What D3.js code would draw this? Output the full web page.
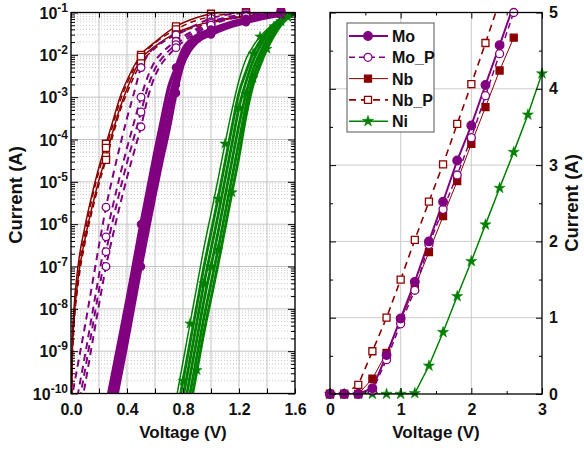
<!DOCTYPE html>
<html>
<head>
<meta charset="utf-8">
<script src="https://cdn.jsdelivr.net/npm/d3@7"></script>
<style>
  body { margin: 0; background: #fff; }
  text { font-family: "Liberation Sans", Arial, sans-serif; font-weight: bold; fill: #111; }
</style>
</head>
<body>
<svg id="chart" width="584" height="450"></svg>
<script>
// ---------------- left panel: log10 of current (A) ----------------
const moV = [0.27, 0.35, 0.40, 0.45, 0.50, 0.55, 0.60, 0.65, 0.70, 0.75, 0.80, 0.85, 0.90, 1.00, 1.10, 1.25, 1.40, 1.50, 1.60];
const moLogI = [
    [-10.0, -8.65, -7.8, -6.9, -6.0, -5.15, -4.3, -3.5, -2.75, -2.3, -1.87, -1.66, -1.54, -1.4, -1.28, -1.15, -1.06, -1.02, -1.0],
    [-10.33, -8.98, -8.13, -7.23, -6.33, -5.48, -4.63, -3.83, -3.08, -2.5, -1.99, -1.74, -1.59, -1.44, -1.31, -1.18, -1.08, -1.03, -1.0],
    [-10.67, -9.32, -8.47, -7.57, -6.67, -5.82, -4.97, -4.17, -3.42, -2.7, -2.11, -1.82, -1.65, -1.48, -1.35, -1.2, -1.1, -1.05, -1.0],
    [-11.0, -9.65, -8.8, -7.9, -7.0, -6.15, -5.3, -4.5, -3.75, -2.9, -2.23, -1.9, -1.7, -1.52, -1.38, -1.23, -1.12, -1.06, -1.01],
];
const moMarkV = [0.50, 0.75, 1.00, 1.25, 1.50];

const moPV = [0.0, 0.05, 0.10, 0.15, 0.20, 0.25, 0.30, 0.35, 0.40, 0.45, 0.50, 0.55, 0.60, 0.65, 0.70, 0.75, 0.80, 0.90, 1.00, 1.10, 1.25, 1.40, 1.50, 1.60];
const moPLogI = [
    [-10.2, -9.3, -8.4, -7.45, -6.5, -5.6, -4.85, -4.15, -3.5, -2.9, -2.3, -2.0, -1.8, -1.7, -1.6, -1.53, -1.45, -1.28, -1.14, -1.06, -1.01, -1.0, -1.0, -1.0],
    [-10.9, -10.0, -9.1, -8.15, -7.2, -6.3, -5.55, -4.85, -4.2, -3.6, -3.0, -2.5, -2.15, -1.95, -1.8, -1.68, -1.57, -1.38, -1.22, -1.12, -1.05, -1.01, -1.0, -1.0],
    [-11.25, -10.35, -9.45, -8.5, -7.55, -6.65, -5.9, -5.2, -4.55, -3.95, -3.35, -2.75, -2.33, -2.08, -1.9, -1.76, -1.63, -1.43, -1.26, -1.15, -1.07, -1.02, -1.0, -1.0],
    [-11.6, -10.7, -9.8, -8.85, -7.9, -7.0, -6.25, -5.55, -4.9, -4.3, -3.7, -3.0, -2.5, -2.2, -2.0, -1.83, -1.69, -1.48, -1.3, -1.18, -1.09, -1.02, -1.0, -1.0],
];
const moPMarkV = [0.25, 0.50, 0.75, 1.00, 1.25, 1.50];

const nbV = [0.0, 0.01, 0.02, 0.05, 0.10, 0.15, 0.20, 0.25, 0.30, 0.35, 0.40, 0.50, 0.60, 0.75, 0.90, 1.00, 1.10, 1.25, 1.50, 1.60];
const nbLogI = [
    [-11.0, -8.7, -8.05, -7.0, -6.05, -5.3, -4.65, -4.1, -3.55, -3.0, -2.6, -2.0, -1.7, -1.33, -1.12, -1.03, -1.0, -1.0, -1.0, -1.0],
    [-11.0, -9.0, -8.35, -7.3, -6.35, -5.6, -4.95, -4.4, -3.8, -3.25, -2.8, -2.1, -1.8, -1.48, -1.3, -1.22, -1.15, -1.08, -1.02, -1.0],
];
const nbPLogI = [
    [-11.0, -8.9, -8.25, -7.2, -6.2, -5.4, -4.75, -4.2, -3.65, -3.1, -2.68, -2.05, -1.72, -1.4, -1.18, -1.1, -1.04, -1.0, -1.0, -1.0],
    [-11.0, -9.2, -8.5, -7.45, -6.45, -5.7, -5.05, -4.48, -3.9, -3.33, -2.9, -2.2, -1.85, -1.52, -1.33, -1.25, -1.17, -1.1, -1.03, -1.0],
];
const nbMarkV = [0.25, 0.50, 0.75, 1.00, 1.25, 1.50];

const niV = [0.75, 0.80, 0.85, 0.90, 0.95, 1.00, 1.05, 1.10, 1.15, 1.20, 1.25, 1.30, 1.35, 1.40, 1.45, 1.50, 1.55, 1.60];
const niLogI = [
    [-10.15, -9.25, -8.35, -7.45, -6.55, -5.75, -4.95, -4.1, -3.3, -2.6, -2.1, -1.8, -1.57, -1.4, -1.25, -1.13, -1.04, -1.0],
    [-10.6, -9.7, -8.8, -7.9, -7.0, -6.2, -5.4, -4.55, -3.7, -2.9, -2.4, -1.97, -1.68, -1.45, -1.3, -1.15, -1.05, -1.0],
    [-11.0, -10.1, -9.2, -8.3, -7.4, -6.6, -5.8, -4.95, -4.1, -3.25, -2.64, -2.15, -1.8, -1.52, -1.33, -1.17, -1.07, -1.0],
    [-11.4, -10.5, -9.6, -8.7, -7.8, -7.0, -6.2, -5.35, -4.5, -3.65, -2.92, -2.35, -1.96, -1.63, -1.4, -1.21, -1.08, -1.0],
    [-11.8, -10.9, -10.0, -9.1, -8.2, -7.4, -6.6, -5.75, -4.9, -4.05, -3.2, -2.55, -2.1, -1.75, -1.48, -1.26, -1.11, -1.01],
    [-12.15, -11.25, -10.35, -9.45, -8.55, -7.75, -6.95, -6.1, -5.25, -4.4, -3.45, -2.72, -2.26, -1.86, -1.55, -1.3, -1.13, -1.02],
];
const niMarkV = [[0.85, 1.10, 1.35], [0.80, 1.05, 1.30], [0.95, 1.20, 1.45], [1.00, 1.25, 1.50], [1.05, 1.30, 1.55], [0.90, 1.15, 1.40]];

// ---------------- right panel: current (A), linear ----------------
const rightV = [0, 0.2, 0.4, 0.6, 0.8, 1.0, 1.2, 1.4, 1.6, 1.8, 2.0, 2.2, 2.4, 2.6, 2.8, 3.0];
const moI = [0, 0, 0, 0.075, 0.51, 0.99, 1.47, 2.0, 2.52, 3.06, 3.52, 4.05, 4.57, 5.1];
const moPI = [0, 0, 0, 0.04, 0.45, 0.92, 1.36, 1.96, 2.42, 2.87, 3.36, 3.91, 4.46, 5.0];
const nbI = [0, 0, 0, 0.2, 0.54, 0.97, 1.4, 1.86, 2.33, 2.79, 3.28, 3.76, 4.24, 4.67];
const nbPI = [0, 0, 0.12, 0.56, 1.0, 1.5, 2.02, 2.52, 3.01, 3.54, 4.06, 4.6, 5.15];
const niI = [0, 0, 0, 0, 0, 0, 0.01, 0.37, 0.81, 1.28, 1.74, 2.22, 2.7, 3.17, 3.66, 4.2];

const legendNames = ['Mo', 'Mo_P', 'Nb', 'Nb_P', 'Ni'];
const decades = [-10, -9, -8, -7, -6, -5, -4, -3, -2, -1];
const leftXTicks = [0, 0.2, 0.4, 0.6, 0.8, 1.0, 1.2, 1.4, 1.6];
const rightXTicks = [0, 1, 2, 3];
const rightYTicks = [0, 1, 2, 3, 4, 5];

const PURPLE = '#800080';
const DRED = '#8b0000';
const GREEN = '#008000';

const svg = d3.select('#chart');

// =============== left panel ===============
const xL = d3.scaleLinear().domain([0, 1.6]).range([71, 295]);
const yL = d3.scaleLog().domain([1e-10, 1e-1]).range([393.5, 12.5]);

const minorL = decades.slice(0, -1).flatMap((e) => d3.range(2, 10).map((m) => m * (10 ** e)));
const majorL = decades.map((e) => 10 ** e);

const gridL = svg.append('g');
gridL.selectAll('line.minor').data(minorL).join('line')
    .attr('x1', 71).attr('x2', 295)
    .attr('y1', (d) => yL(d)).attr('y2', (d) => yL(d))
    .attr('stroke', '#c8c8c8').attr('stroke-dasharray', '1,2');
gridL.selectAll('line.major').data(majorL).join('line')
    .attr('x1', 71).attr('x2', 295)
    .attr('y1', (d) => yL(d)).attr('y2', (d) => yL(d))
    .attr('stroke', '#c4c4c4');
gridL.selectAll('line.vx').data(leftXTicks).join('line')
    .attr('x1', (d) => xL(d)).attr('x2', (d) => xL(d))
    .attr('y1', 12.5).attr('y2', 393.5)
    .attr('stroke', '#c4c4c4');

svg.append('defs').append('clipPath').attr('id', 'clipL')
    .append('rect').attr('x', 71).attr('y', 12.5).attr('width', 224).attr('height', 381);

const lineL = d3.line()
    .x((d) => xL(d[0]))
    .y((d) => yL(10 ** d[1]))
    .curve(d3.curveMonotoneX);

const tracesL = svg.append('g').attr('clip-path', 'url(#clipL)');
const marksL = svg.append('g');

function drawLogSet(vs, sets, style)
{
    sets.forEach((logs, k) =>
    {
        const pts = vs.map((v, i) => [v, logs[i]]);
        tracesL.append('path')
            .attr('d', lineL(pts))
            .attr('fill', 'none')
            .attr('stroke', style.color)
            .attr('stroke-width', Array.isArray(style.width) ? style.width[k] : style.width)
            .attr('stroke-dasharray', style.dash || null);

        const markV = Array.isArray(style.markV[0]) ? style.markV[k] : style.markV;
        const mpts = markV.map((v) => [v, logs[vs.indexOf(v)]]).filter((p) => p[1] >= -10.05 && p[1] <= -0.99);
        drawMarkers(marksL, mpts.map((p) => [xL(p[0]), yL(10 ** p[1])]), style.marker, style.color, style.size);
    });
}

function drawMarkers(g, pts, kind, color, size)
{
    if (kind === 'circle' || kind === 'ocircle')
    {
        g.selectAll(null).data(pts).join('circle')
            .attr('cx', (d) => d[0]).attr('cy', (d) => d[1]).attr('r', size)
            .attr('fill', kind === 'circle' ? color : '#fff')
            .attr('stroke', color).attr('stroke-width', 1.3);
        return;
    }
    const sym = kind === 'star' ? d3.symbolStar : d3.symbolSquare;
    g.selectAll(null).data(pts).join('path')
        .attr('transform', (d) => `translate(${d[0]},${d[1]})`)
        .attr('d', d3.symbol(sym, size * size * (kind === 'star' ? 1.3 : 1)))
        .attr('fill', kind === 'osquare' ? '#fff' : color)
        .attr('stroke', color).attr('stroke-width', kind === 'star' ? 0.5 : 1.3);
}

drawLogSet(nbV, nbLogI, { color: DRED, width: 1.5, marker: 'osquare', size: 7, markV: nbMarkV });
drawLogSet(nbV, nbPLogI, { color: DRED, width: 1.5, dash: '6,4', marker: 'osquare', size: 7, markV: nbMarkV });
drawLogSet(moPV, moPLogI, { color: PURPLE, width: 2, dash: '7,5', marker: 'ocircle', size: 3.8, markV: moPMarkV });
drawLogSet(moV, moLogI, { color: PURPLE, width: 3.6, marker: 'circle', size: 3.6, markV: moMarkV });
drawLogSet(niV, niLogI, { color: GREEN, width: [1.5, 2.8, 2.8, 2.8, 2.8, 2.8], marker: 'star', size: 5, markV: niMarkV });

// left axes (ticks point inward)
function noDomain(g) { g.select('.domain').remove(); }

svg.append('g').attr('transform', 'translate(0,393.5)')
    .call(d3.axisBottom(xL).tickValues(leftXTicks).tickSize(-5).tickPadding(10)
        .tickFormat((v) => (Math.abs(v / 0.4 - Math.round(v / 0.4)) < 1e-6 ? d3.format('.1f')(v) : '')))
    .attr('font-size', 16)
    .call(noDomain);
svg.append('g').attr('transform', 'translate(0,12.5)')
    .call(d3.axisTop(xL).tickValues(leftXTicks).tickSize(-5).tickFormat(''))
    .call(noDomain);
svg.append('g').attr('transform', 'translate(71,0)')
    .call(d3.axisLeft(yL).tickValues(majorL).tickSize(-7).tickFormat(''))
    .call(noDomain);
svg.append('g').attr('transform', 'translate(71,0)')
    .call(d3.axisLeft(yL).tickValues(minorL).tickSize(-4).tickFormat(''))
    .call(noDomain);
svg.append('g').attr('transform', 'translate(295,0)')
    .call(d3.axisRight(yL).tickValues(majorL).tickSize(-7).tickFormat(''))
    .call(noDomain);
svg.append('g').attr('transform', 'translate(295,0)')
    .call(d3.axisRight(yL).tickValues(minorL).tickSize(-4).tickFormat(''))
    .call(noDomain);

const logLabels = svg.append('g').selectAll('text').data(decades).join('text')
    .attr('x', 68)
    .attr('y', (d) => yL(10 ** d) + 6)
    .attr('text-anchor', 'end');
logLabels.append('tspan').attr('font-size', 16).text('10');
logLabels.append('tspan').attr('font-size', 12).attr('dy', -7).text((d) => String(d));

svg.append('rect').attr('x', 71).attr('y', 12.5).attr('width', 224).attr('height', 381)
    .attr('fill', 'none').attr('stroke', '#000').attr('stroke-width', 1.3);

// =============== right panel ===============
const xR = d3.scaleLinear().domain([0, 3]).range([330, 542]);
const yR = d3.scaleLinear().domain([0, 5]).range([394, 12.5]);

const gridR = svg.append('g');
gridR.selectAll('line.v').data([1, 2]).join('line')
    .attr('x1', (d) => xR(d)).attr('x2', (d) => xR(d)).attr('y1', 12.5).attr('y2', 394)
    .attr('stroke', '#cccccc');
gridR.selectAll('line.h').data([1, 2, 3, 4]).join('line')
    .attr('x1', 330).attr('x2', 542).attr('y1', (d) => yR(d)).attr('y2', (d) => yR(d))
    .attr('stroke', '#cccccc');

svg.append('defs').append('clipPath').attr('id', 'clipR')
    .append('rect').attr('x', 330).attr('y', 12.5).attr('width', 212).attr('height', 381.5);

const lineR = d3.line().x((d) => xR(d[0])).y((d) => yR(d[1]));
const tracesR = svg.append('g').attr('clip-path', 'url(#clipR)');
const marksR = svg.append('g');

const rightSeries = [
    { name: 'Ni', values: niI, color: GREEN, width: 1.5, marker: 'star', size: 5.5 },
    { name: 'Nb_P', values: nbPI, color: DRED, width: 1.6, dash: '7,5', marker: 'osquare', size: 7 },
    { name: 'Nb', values: nbI, color: DRED, width: 1, marker: 'square', size: 7 },
    { name: 'Mo_P', values: moPI, color: PURPLE, width: 1.5, dash: '6,4', marker: 'ocircle', size: 4 },
    { name: 'Mo', values: moI, color: PURPLE, width: 2, marker: 'circle', size: 4.3 },
];

rightSeries.forEach((s) =>
{
    const pts = s.values.map((v, i) => [rightV[i], v]);
    tracesR.append('path')
        .attr('d', lineR(pts))
        .attr('fill', 'none')
        .attr('stroke', s.color)
        .attr('stroke-width', s.width)
        .attr('stroke-dasharray', s.dash || null);
    const mpts = pts.filter((p) => p[1] <= 5.001).map((p) => [xR(p[0]), yR(p[1])]);
    drawMarkers(marksR, mpts, s.marker, s.color, s.size);
});

const halfX = [0.5, 1.5, 2.5];
const halfY = [0.5, 1.5, 2.5, 3.5, 4.5];

svg.append('g').attr('transform', 'translate(0,394)')
    .call(d3.axisBottom(xR).tickValues(rightXTicks).tickSize(-6).tickPadding(10).tickFormat(d3.format('d')))
    .attr('font-size', 16)
    .call(noDomain);
svg.append('g').attr('transform', 'translate(0,394)')
    .call(d3.axisBottom(xR).tickValues(halfX).tickSize(-3).tickFormat(''))
    .call(noDomain);
svg.append('g').attr('transform', 'translate(0,12.5)')
    .call(d3.axisTop(xR).tickValues(rightXTicks).tickSize(-6).tickFormat(''))
    .call(noDomain);
svg.append('g').attr('transform', 'translate(0,12.5)')
    .call(d3.axisTop(xR).tickValues(halfX).tickSize(-3).tickFormat(''))
    .call(noDomain);
svg.append('g').attr('transform', 'translate(330,0)')
    .call(d3.axisLeft(yR).tickValues(rightYTicks).tickSize(-6).tickFormat(''))
    .call(noDomain);
svg.append('g').attr('transform', 'translate(330,0)')
    .call(d3.axisLeft(yR).tickValues(halfY).tickSize(-3).tickFormat(''))
    .call(noDomain);
svg.append('g').attr('transform', 'translate(542,0)')
    .call(d3.axisRight(yR).tickValues(rightYTicks).tickSize(-6).tickPadding(7).tickFormat(d3.format('d')))
    .attr('font-size', 16)
    .call(noDomain);
svg.append('g').attr('transform', 'translate(542,0)')
    .call(d3.axisRight(yR).tickValues(halfY).tickSize(-3).tickFormat(''))
    .call(noDomain);

svg.append('rect').attr('x', 330).attr('y', 12.5).attr('width', 212).attr('height', 381.5)
    .attr('fill', 'none').attr('stroke', '#000').attr('stroke-width', 1.3);

// legend
const legend = svg.append('g').attr('transform', 'translate(347,23)');
legend.append('rect').attr('width', 87).attr('height', 109)
    .attr('fill', '#fff').attr('stroke', '#555').attr('stroke-width', 1);
legendNames.forEach((name, i) =>
{
    const s = rightSeries.find((r) => r.name === name);
    const y = 13 + i * 21.3;
    legend.append('line')
        .attr('x1', 2).attr('x2', 41).attr('y1', y).attr('y2', y)
        .attr('stroke', s.color).attr('stroke-width', s.width)
        .attr('stroke-dasharray', s.dash || null);
    drawMarkers(legend, [[21, y]], s.marker, s.color, s.size);
    legend.append('text').attr('x', 45).attr('y', y + 6).attr('font-size', 16).text(name);
});

// axis titles
[183, 436].forEach((cx) =>
{
    svg.append('text').attr('x', cx).attr('y', 438).attr('text-anchor', 'middle')
        .attr('font-size', 17).text('Voltage (V)');
});
svg.append('text').attr('transform', 'translate(22,195) rotate(-90)')
    .attr('text-anchor', 'middle').attr('font-size', 18.5).text('Current (A)');
svg.append('text').attr('transform', 'translate(578,203) rotate(-90)')
    .attr('text-anchor', 'middle').attr('font-size', 18.5).text('Current (A)');
</script>
</body>
</html>
